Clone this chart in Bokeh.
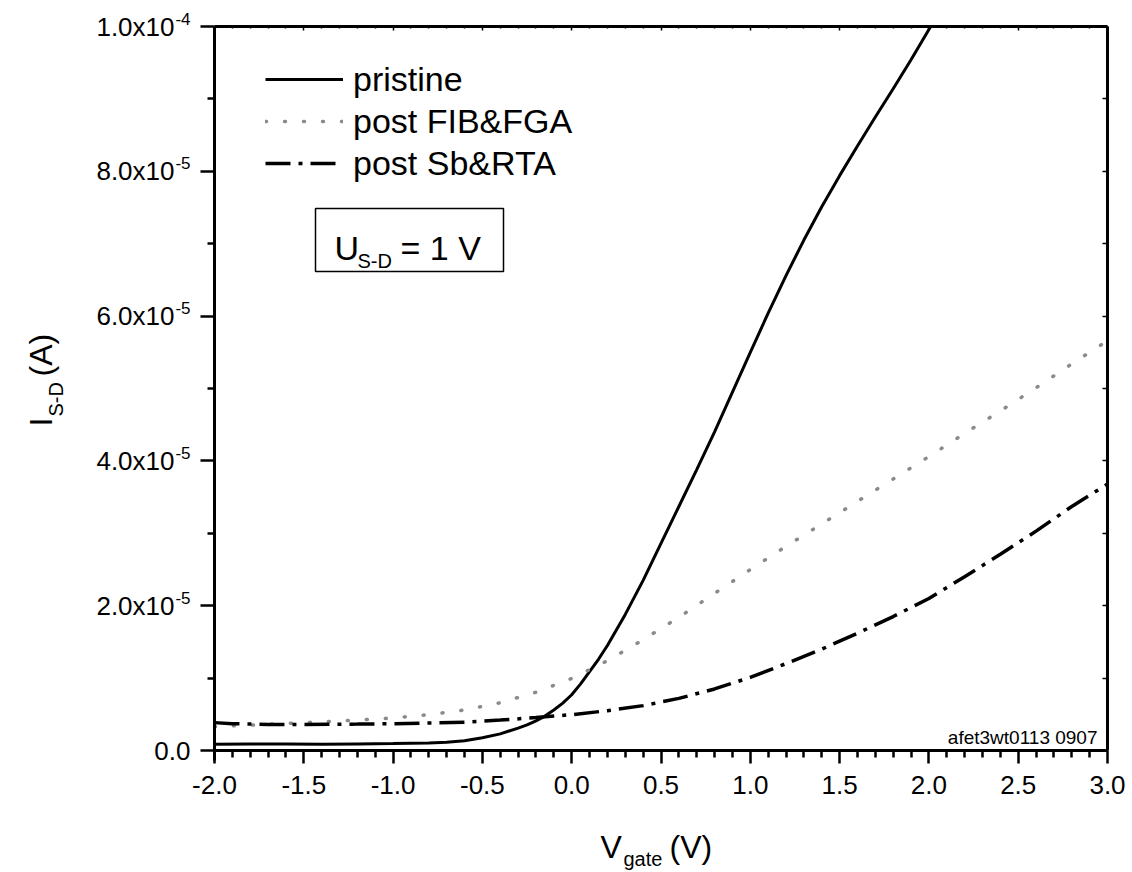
import math
from bokeh.plotting import figure
from bokeh.models import (LinearAxis, FixedTicker, NumeralTickFormatter, Label,
                          BoxAnnotation, Legend, LegendItem, ColumnDataSource, Range1d)
from bokeh.embed import file_html
from bokeh.resources import INLINE

FONT = "Liberation Sans"

# ---------------- data (current in microampere) ----------------
x_pristine = [-2.0, -1.8, -1.6, -1.4, -1.2, -1.0, -0.8, -0.7, -0.6, -0.5, -0.4, -0.3,
              -0.25, -0.2, -0.15, -0.1, -0.05, 0.0, 0.05, 0.1, 0.15, 0.2, 0.3, 0.4,
              0.5, 0.6, 0.7, 0.8, 0.9, 1.0, 1.1, 1.2, 1.3, 1.4, 1.5, 1.6, 1.7, 1.8,
              1.9, 2.01]
i_pristine_uA = [0.85, 0.9, 0.9, 0.85, 0.9, 0.95, 1.05, 1.15, 1.35, 1.75, 2.3, 3.1,
                 3.55, 4.1, 4.75, 5.6, 6.55, 7.7, 9.2, 10.9, 12.6, 14.5, 18.8, 23.5,
                 28.6, 33.7, 38.8, 44.0, 49.5, 55.0, 60.4, 65.6, 70.5, 75.1, 79.4,
                 83.5, 87.5, 91.4, 95.4, 100.0]

x_fib = [-2.0, -1.8, -1.6, -1.4, -1.2, -1.0, -0.8, -0.6, -0.4, -0.2, 0.0, 0.2, 0.4,
         0.6, 0.8, 1.0, 1.2, 1.4, 1.6, 1.8, 2.0, 2.2, 2.4, 2.6, 2.8, 3.0]
i_fib_uA = [3.3, 3.5, 3.75, 3.95, 4.2, 4.5, 4.95, 5.6, 6.6, 8.05, 9.95, 12.4, 15.3,
            18.4, 21.7, 25.0, 28.2, 31.3, 34.4, 37.5, 40.6, 43.8, 46.9, 50.1, 53.4, 56.6]

x_sb = [-2.0, -1.9, -1.7, -1.5, -1.2, -1.0, -0.8, -0.6, -0.4, -0.2, 0.0, 0.2, 0.4,
        0.6, 0.8, 1.0, 1.2, 1.4, 1.6, 1.8, 2.0, 2.2, 2.4, 2.6, 2.8, 3.0]
i_sb_uA = [3.85, 3.7, 3.6, 3.6, 3.65, 3.7, 3.8, 3.9, 4.2, 4.55, 4.95, 5.5, 6.2,
           7.2, 8.5, 10.1, 12.0, 14.0, 16.2, 18.5, 21.0, 24.0, 27.1, 30.3, 33.7, 36.8]

series_names = ["pristine", "post FIB&FGA", "post Sb&RTA"]

x_lo, x_hi = -2.0, 3.0
y_lo, y_hi = 0.0, 1e-4
x_ticks = [-2.0, -1.5, -1.0, -0.5, 0.0, 0.5, 1.0, 1.5, 2.0, 2.5, 3.0]
x_minor = [round(-2.0 + 0.1 * k, 1) for k in range(51) if k % 5]
y_ticks = [0.0, 2e-5, 4e-5, 6e-5, 8e-5, 1e-4]
y_minor = [1e-5, 3e-5, 5e-5, 7e-5, 9e-5]
y_tick_base = ["0.0", "2.0x10", "4.0x10", "6.0x10", "8.0x10", "1.0x10"]
y_tick_exp = ["", "-5", "-5", "-5", "-5", "-4"]

# ---------------- layout helpers (page px -> data) ----------------
FL, FR, FT, FB = 214, 1107, 26, 750          # axes box in the page
def dx(px):
    return x_lo + (px - FL) * (x_hi - x_lo) / (FR - FL)
def dy(py):
    return y_lo + (FB - py) * (y_hi - y_lo) / (FB - FT)

W, H = 1132, 872
p = figure(width=W, height=H,
           x_range=Range1d(dx(0), dx(W)), y_range=Range1d(dy(H), dy(0)),
           output_backend="svg", toolbar_location=None,
           min_border=0, min_border_left=0, min_border_right=0,
           min_border_top=0, min_border_bottom=0)
p.grid.visible = False
p.outline_line_color = None
p.background_fill_color = "white"
p.border_fill_color = "white"

def style_axis(ax, tick_out, minor_out, tick_in, minor_in, lw, tlw):
    ax.major_tick_out = tick_out
    ax.minor_tick_out = minor_out
    ax.major_tick_in = tick_in
    ax.minor_tick_in = minor_in
    ax.axis_line_width = lw
    ax.axis_line_color = "black"
    ax.major_tick_line_width = tlw
    ax.minor_tick_line_width = tlw

xa = p.xaxis[0]
xa.ticker = FixedTicker(ticks=x_ticks, minor_ticks=x_minor)
xa.formatter = NumeralTickFormatter(format="0.0")
xa.fixed_location = y_lo
xa.bounds = (x_lo, x_hi)
xa.major_label_text_font = FONT
xa.major_label_text_font_size = "26px"
xa.major_label_text_color = "black"
xa.major_label_standoff = 12
style_axis(xa, 13, 7, 0, 0, 3, 2.5)

ya = p.yaxis[0]
ya.ticker = FixedTicker(ticks=y_ticks, minor_ticks=y_minor)
ya.fixed_location = x_lo
ya.bounds = (dy(760), y_hi)
ya.major_label_text_color = None
style_axis(ya, 14, 7, 0, 0, 3, 2.5)

top = LinearAxis(ticker=FixedTicker(ticks=x_ticks, minor_ticks=x_minor),
                 fixed_location=y_hi, bounds=(x_lo, x_hi),
                 major_label_text_color=None)
style_axis(top, 0, 0, 4, 2, 3, 1.5)
p.add_layout(top, "above")
right = LinearAxis(ticker=FixedTicker(ticks=y_ticks, minor_ticks=y_minor),
                   fixed_location=x_hi, bounds=(y_lo, y_hi),
                   major_label_text_color=None)
style_axis(right, 0, 0, 5, 5, 3, 1.5)
p.add_layout(right, "right")

# ---------------- curves ----------------
src_p = ColumnDataSource(dict(x=x_pristine, y=[v * 1e-6 for v in i_pristine_uA]))
src_f = ColumnDataSource(dict(x=x_fib, y=[v * 1e-6 for v in i_fib_uA]))
src_s = ColumnDataSource(dict(x=x_sb, y=[v * 1e-6 for v in i_sb_uA]))

r1 = p.line("x", "y", source=src_p, line_color="black", line_width=3)
r2 = p.line("x", "y", source=src_f, line_color="#8a8a8a", line_width=3.5,
            line_dash="1 18", line_cap="round")
r3 = p.line("x", "y", source=src_s, line_color="black", line_width=3.5,
            line_dash="25 8 4 8")

legend = Legend(items=[LegendItem(label=series_names[0], renderers=[r1]),
                       LegendItem(label=series_names[1], renderers=[r2]),
                       LegendItem(label=series_names[2], renderers=[r3])],
                location=(265, H - 184), padding=0, margin=0, spacing=0,
                glyph_width=78, glyph_height=42, label_height=42,
                label_standoff=10, label_text_font=FONT,
                label_text_font_size="34px", label_text_color="black",
                border_line_alpha=0, background_fill_alpha=0)
p.add_layout(legend)

# ---------------- y tick labels (base + superscript) ----------------
for v, b, e in zip(y_ticks, y_tick_base, y_tick_exp):
    if e:
        p.add_layout(Label(x=x_lo, y=v, x_offset=-40, text=b, text_align="right",
                           text_baseline="middle", text_font=FONT,
                           text_font_size="26px", text_color="black"))
        p.add_layout(Label(x=x_lo, y=v, x_offset=-24, y_offset=8, text=e,
                           text_align="right", text_baseline="middle",
                           text_font=FONT, text_font_size="17px", text_color="black"))
    else:
        p.add_layout(Label(x=x_lo, y=v, x_offset=-24, text=b, text_align="right",
                           text_baseline="middle", text_font=FONT,
                           text_font_size="26px", text_color="black"))

# ---------------- text helper ----------------
def lab(x, y, t, size, **kw):
    p.add_layout(Label(x=x, y=y, text=t, text_font=FONT, text_font_size=size,
                       text_color="black", text_baseline="alphabetic",
                       text_align=kw.pop("align", "left"), **kw))

# axis titles
lab(dx(600), dy(846), "V", "32px")
lab(dx(623), dy(858), "gate", "20px")
lab(dx(669), dy(846), "(V)", "32px")

rot = math.pi / 2
lab(dx(40), dy(426), "I", "32px", angle=rot)
lab(dx(55), dy(416), "S-D", "20px", angle=rot)
lab(dx(40), dy(376), "(A)", "32px", angle=rot)

# ---------------- annotation box ----------------
p.add_layout(BoxAnnotation(left=dx(315), right=dx(503), top=dy(208), bottom=dy(271),
                           fill_alpha=0, fill_color=None, line_color="black",
                           line_alpha=1, line_width=1.5))
lab(dx(334), dy(247), "U", "34px")
lab(dx(357), dy(260), "S-D", "20px")
lab(dx(400), dy(247), "= 1 V", "34px")

lab(dx(1097), dy(737), "afet3wt0113 0907", "19px", align="right")

open("out.html", "w").write(file_html(p, INLINE))
